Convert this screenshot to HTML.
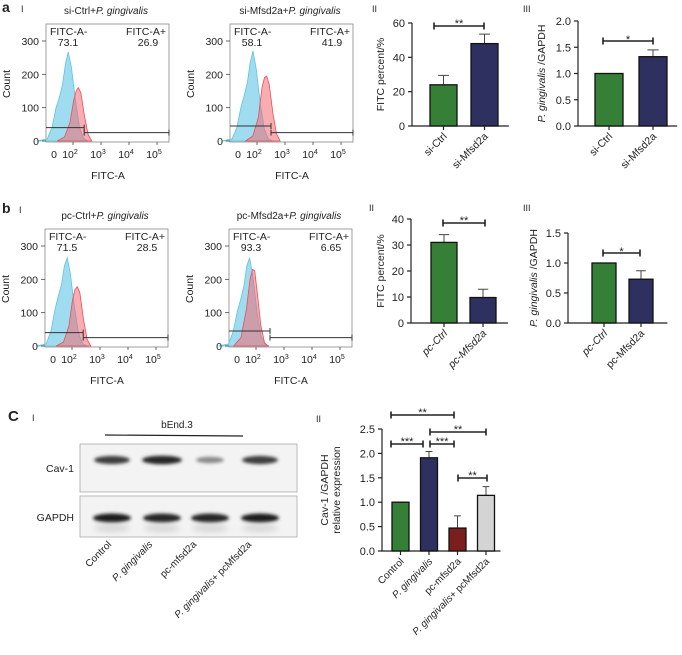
<!DOCTYPE html>
<html><head><meta charset="utf-8">
<style>
html,body{margin:0;padding:0;background:#fff;}
svg{display:block;font-family:"Liberation Sans",Arial,sans-serif;}
</style></head>
<body>
<svg id="fig" width="682" height="655" viewBox="0 0 682 655" xmlns="http://www.w3.org/2000/svg">
<defs>
<filter id="blur1" x="-20%" y="-100%" width="140%" height="300%"><feGaussianBlur stdDeviation="1.6"/></filter>
<filter id="blur2" x="-20%" y="-100%" width="140%" height="300%"><feGaussianBlur stdDeviation="3"/></filter>
</defs>
</svg>
<script>
// ---------- DATA ----------
const flowTitles = [['si-Ctrl+','P. gingivalis'],['si-Mfsd2a+','P. gingivalis'],['pc-Ctrl+','P. gingivalis'],['pc-Mfsd2a+','P. gingivalis']];
const flowNegPct = ['73.1','58.1','71.5','93.3'];
const flowPosPct = ['26.9','41.9','28.5','6.65'];
const flowYTicks = [0,100,200,300];
const blueD = [1.05,1.3,1.42,1.52,1.6,1.68,1.75,1.82,1.9,2.0,2.1,2.2,2.3];
const blueCountsA1 = [0,6,40,100,130,170,230,267,220,120,40,8,0];
const blueCountsA2 = [0,6,40,100,135,175,235,270,215,110,35,6,0];
const blueCountsB1 = [0,6,45,110,150,185,240,265,215,115,38,7,0];
const blueCountsB2 = [0,6,45,105,140,180,240,265,210,105,30,5,0];
const redD = [1.6,1.8,1.95,2.05,2.12,2.18,2.25,2.35,2.45,2.55];
const redCountsA1 = [0,12,55,120,150,160,145,75,20,0];
const redCountsA2 = [0,15,70,160,190,195,170,85,22,0];
const redCountsB1 = [0,12,60,140,170,178,160,80,20,0];
const redCountsB2 = [0,25,110,200,230,225,160,60,10,0];
const blueShift = [0,0.02,0,-0.04];
const redShift = [0,0.12,0,-0.18];
const gateNeg = [40,45,40,45];
const gatePos = [25,25,25,25];

const aIICats = ['si-Ctrl','si-Mfsd2a'];
const aIIVals = [24,48];
const aIIErr = [29.5,53.5];
const aIITicks = [0,20,40,60];
const aIIIVals = [1.0,1.32];
const aIIIErr = [1.0,1.45];
const aIIITicks = [0,0.5,1.0,1.5,2.0];
const aIIITickLabels = ['0.0','0.5','1.0','1.5','2.0'];
const bIICats = ['pc-Ctrl','pc-Mfsd2a'];
const bIIVals = [31,9.8];
const bIIErr = [34,13];
const bIITicks = [0,10,20,30,40];
const bIIIVals = [1.0,0.73];
const bIIIErr = [1.0,0.87];
const bIIITicks = [0,0.5,1.0,1.5];
const bIIITickLabels = ['0.0','0.5','1.0','1.5'];
const cCats = ['Control','P. gingivalis','pc-mfsd2a','P. gingivalis+ pcMfsd2a'];
const cVals = [1.0,1.91,0.47,1.14];
const cErr = [1.0,2.04,0.72,1.32];
const cTicks = [0,0.5,1.0,1.5,2.0,2.5];
const cTickLabels = ['0.0','0.5','1.0','1.5','2.0','2.5'];
const cav1Intensity = [0.85,1.0,0.3,0.85];
const gapdhIntensity = [1.0,0.95,0.95,1.0];

// ---------- HELPERS ----------
const NS='http://www.w3.org/2000/svg';
const svg=document.getElementById('fig');
function mk(tag,attrs,parent){const e=document.createElementNS(NS,tag);for(const k in attrs)e.setAttribute(k,attrs[k]);(parent||svg).appendChild(e);return e;}
function txt(s,x,y,size,anchor,parent,extra){const e=mk('text',Object.assign({x:x,y:y,'font-size':size,'text-anchor':anchor||'start',fill:'#222'},extra||{}),parent);e.textContent=s;return e;}
const greens=['#358036','#2e3060','#7a1e1e','#d4d4d4'];

// ---------- PANEL LABELS ----------
let t;
t=txt('a',2,12,14,'start',svg,{'font-weight':'bold'});


t=txt('I',21,12,9);


t=txt('b',2,213,14,'start',svg,{'font-weight':'bold'});


t=txt('I',19,213,9);


t=txt('C',8,421,15,'start',svg,{'font-weight':'bold'});


t=txt('I',32,421,9);



// ---------- FLOW HISTOGRAMS ----------
const flowPos=[[46,24],[230,24],[45,229],[229,229]];
const blueSets=[blueCountsA1,blueCountsA2,blueCountsB1,blueCountsB2];
const redSets=[redCountsA1,redCountsA2,redCountsB1,redCountsB2];
flowPos.forEach((p,i)=>{
  const L=p[0],T=p[1],W=123,H=118,B=T+117;
  const g=mk('g',{});
  
  
  const xs=d=>L+27+(d-2)*28;
  const xb=d=>xs(1.8+(d-1.8)*1.45);
  const xr=d=>xs(2.15+(d-2.15)*1.3);
  const ys=c=>B-c/3;
  const ti=txt(flowTitles[i][0],L+60,T-10,10,'middle',g);
  const ts=mk('tspan',{'font-style':'italic'},ti);ts.textContent=flowTitles[i][1];
  
  
  const bx=mk('rect',{x:L,y:T,width:W,height:H,fill:'none',stroke:'#888','stroke-width':0.8},g);
  
  
  let pts=[[xb(blueD[0]+blueShift[i]),B]];
  blueD.forEach((d,k)=>pts.push([xb(d+blueShift[i]),ys(blueSets[i][k])]));
  pts.push([xb(blueD[blueD.length-1]+blueShift[i]),B]);
  const bl=mk('polygon',{points:pts.map(q=>q.join(',')).join(' '),fill:'#8fd6ec','fill-opacity':0.85,stroke:'#5cc4e4','stroke-width':0.8},g);
  
  
  pts=[[xr(redD[0]+redShift[i]),B]];
  redD.forEach((d,k)=>pts.push([xr(d+redShift[i]),ys(redSets[i][k])]));
  pts.push([xr(redD[redD.length-1]+redShift[i]),B]);
  const rd=mk('polygon',{points:pts.map(q=>q.join(',')).join(' '),fill:'#f06a72','fill-opacity':0.55,stroke:'#e8505a','stroke-width':0.8},g);
  
  
  const gx=xs(2.4+(i%2?0.1:0));
  const g1=mk('path',{d:`M${L} ${ys(gateNeg[i])}H${gx}M${gx} ${ys(gateNeg[i])-3}v6`,stroke:'#333','stroke-width':1,fill:'none'},g);
  
  
  const g2=mk('path',{d:`M${gx} ${ys(gatePos[i])}H${L+W}M${gx} ${ys(gatePos[i])-3}v6M${L+W} ${ys(gatePos[i])-3}v6`,stroke:'#333','stroke-width':1,fill:'none'},g);
  
  
  t=txt('FITC-A-',L+4,T+11,10.5,'start',g);
  
  
  t=txt(flowNegPct[i],L+22,T+22,10.5,'middle',g);
  
  
  t=txt('FITC-A+',L+W-3,T+11,10.5,'end',g);
  
  
  t=txt(flowPosPct[i],L+W-21,T+22,10.5,'middle',g);
  
  
  flowYTicks.forEach(v=>{
    const tk=mk('line',{x1:L-4,x2:L,y1:ys(v),y2:ys(v),stroke:'#444','stroke-width':0.8},g);
    
    
    const tl=txt(String(v),L-7,ys(v)+4,10.5,'end',g);
    
    
  });
  const yl=txt('Count',0,0,10.5,'middle',g,{transform:`translate(${L-36},${T+60}) rotate(-90)`});
  
  
  const xl0=txt('0',L+8,B+17,10.5,'middle',g);
  
  
  [2,3,4,5].forEach(d=>{
    const tk=mk('line',{x1:xs(d),x2:xs(d),y1:B+1,y2:B+4,stroke:'#444','stroke-width':0.8},g);
    
    
    const tl=txt('10',xs(d)-3,B+17,10.5,'middle',g);
    const sp=mk('tspan',{dy:-4,'font-size':7},tl);sp.textContent=String(d);
    
    
  });
  const xt=txt('FITC-A',L+62,B+38,10.5,'middle',g);
  
  
});

// ---------- BAR CHARTS ----------
function barChart(o){
  const g=mk('g',{});
  
  
  const max=o.ticks[o.ticks.length-1];
  const ys=v=>o.y0-(v/max)*(o.y0-o.yTop);
  const xc=i=>o.x0+o.off+o.w/2+i*o.step;
  const n=o.vals.length;
  const right=xc(n-1)+o.w/2+o.off*0.6;
  const ax=mk('path',{d:`M${o.ax} ${o.yTop}V${o.y0}H${right}`,stroke:'#222','stroke-width':1.2,fill:'none'},g);
  
  
  o.ticks.forEach((v,k)=>{
    const tk=mk('line',{x1:o.ax-4,x2:o.ax,y1:ys(v),y2:ys(v),stroke:'#222','stroke-width':1.2},g);
    
    
    const tl=txt(o.tickLabels?o.tickLabels[k]:String(v),o.ax-7,ys(v)+4,11,'end',g);
    
    
  });
  o.vals.forEach((v,i)=>{
    const er=mk('path',{d:`M${xc(i)} ${ys(v)}V${ys(o.err[i])}M${xc(i)-o.w*0.2} ${ys(o.err[i])}H${xc(i)+o.w*0.2}`,stroke:'#444','stroke-width':1},g);
    
    
    const r=mk('rect',{x:xc(i)-o.w/2,y:ys(v),width:o.w,height:o.y0-ys(v),fill:o.colors[i],stroke:'#111','stroke-width':1.3},g);
    
    
    const tk=mk('line',{x1:xc(i),x2:xc(i),y1:o.y0,y2:o.y0+4,stroke:'#222','stroke-width':1.2},g);
    
    
    const lab=o.cats[i];
    const tl=mk('text',{x:0,y:0,'font-size':o.fs||10.5,'text-anchor':'end',fill:'#222',transform:`translate(${xc(i)+4},${o.y0+11}) rotate(-45)`},g);
    if(o.italicFull && o.italicFull[i]){tl.setAttribute('font-style','italic');}
    if(lab.startsWith('P. gingivalis')){
      const s1=mk('tspan',{'font-style':'italic'},tl);s1.textContent='P. gingivalis';
      const s2=mk('tspan',{},tl);s2.textContent=lab.slice(13);
    } else tl.textContent=lab;
    
    
  });
  (o.brackets||[]).forEach(b=>{
    const y=b[2];
    const br=mk('path',{d:`M${b[0]} ${y}H${b[1]}M${b[0]} ${y-3.5}v7M${b[1]} ${y-3.5}v7`,stroke:'#222','stroke-width':1.6,fill:'none'},g);
    
    
    const st=txt(b[3],(b[0]+b[1])/2,y+(b[3].length>1?1:2),11,'middle',g);
    
    
  });
  const yl=mk('text',{x:0,y:0,'font-size':10.5,'text-anchor':'middle',fill:'#222',transform:`translate(${o.ylx},${(o.y0+o.yTop)/2}) rotate(-90)`},g);
  o.ylParts.forEach(pp=>{const s=mk('tspan',pp[1]?{'font-style':'italic'}:{},yl);s.textContent=pp[0];});
  
  
  if(o.yl2){
    const y2=txt(o.yl2,0,0,10.5,'middle',g,{transform:`translate(${o.ylx+12},${(o.y0+o.yTop)/2}) rotate(-90)`});
    
    
  }
  const rl=txt(o.roman,o.romanX,o.romanY,9,'start',g);
  
  
}

barChart({name:'chart-a-ii',cats:aIICats,vals:aIIVals,err:aIIErr,ticks:aIITicks,ax:412,x0:412,off:18,w:27,step:41,y0:126,yTop:23,colors:[greens[0],greens[1]],brackets:[[434,484,26,'**']],ylx:384,ylParts:[['FITC percent/%',false]],roman:'II',romanX:372,romanY:12});
barChart({name:'chart-a-iii',cats:aIICats,vals:aIIIVals,err:aIIIErr,ticks:aIIITicks,tickLabels:aIIITickLabels,ax:578,x0:578,off:17,w:28,step:44,y0:126,yTop:21,colors:[greens[0],greens[1]],brackets:[[603,653,41,'*']],ylx:545,ylParts:[['P. gingivalis',true],[' /GAPDH',false]],roman:'III',romanX:523,romanY:12});
barChart({name:'chart-b-ii',cats:bIICats,vals:bIIVals,err:bIIErr,ticks:bIITicks,ax:411,x0:411,off:20,w:26,step:39,y0:323,yTop:219,colors:[greens[0],greens[1]],brackets:[[443,485,223,'**']],ylx:384,ylParts:[['FITC percent/%',false]],roman:'II',romanX:369,romanY:211,italicFull:[true,true]});
barChart({name:'chart-b-iii',cats:bIICats,vals:bIIIVals,err:bIIIErr,ticks:bIIITicks,tickLabels:bIIITickLabels,ax:568,x0:568,off:24,w:24,step:37,y0:323,yTop:233,colors:[greens[0],greens[1]],brackets:[[603,640,253,'*']],ylx:537,ylParts:[['P. gingivalis',true],[' /GAPDH',false]],roman:'III',romanX:523,romanY:211,italicFull:[true,false]});
barChart({name:'chart-c-ii',cats:cCats,vals:cVals,err:cErr,ticks:cTicks,tickLabels:cTickLabels,ax:382,x0:382,off:10,w:17,step:28.5,y0:551,yTop:429,colors:greens,brackets:[[391,454,415,'**'],[391,423,444,'***'],[430,454,444,'***'],[430,486,432,'**'],[458,487,478,'**']],ylx:328,ylParts:[['Cav-1 /GAPDH',false]],yl2:'relative expression',roman:'II',romanX:316,romanY:422,fs:10});

// ---------- WESTERN BLOT ----------
const wb=mk('g',{});


t=txt('bEnd.3',177,428,10,'middle',wb);


let ln=mk('line',{x1:105,x2:243,y1:435,y2:436,stroke:'#222','stroke-width':1.2},wb);


let bx1=mk('rect',{x:80,y:444,width:217,height:48,fill:'#f3f3f3',stroke:'#aaa','stroke-width':0.8},wb);


let bx2=mk('rect',{x:80,y:496,width:217,height:41,fill:'#f3f3f3',stroke:'#aaa','stroke-width':0.8},wb);


t=txt('Cav-1',74,472,10.5,'end',wb);


t=txt('GAPDH',74,521,10.5,'end',wb);


const laneX=[112,162,210,260];
const laneW=[36,40,28,36];
laneX.forEach((x,i)=>{
  const c=Math.round(40+(1-cav1Intensity[i])*140);
  const e1=mk('ellipse',{cx:x,cy:460,rx:laneW[i]/2,ry:2.8+cav1Intensity[i]*1.5,fill:`rgb(${c},${c},${c})`,filter:'url(#blur1)'},wb);
  
  
  const c2=Math.round(30+(1-gapdhIntensity[i])*140);
  const e2=mk('ellipse',{cx:x,cy:518,rx:19,ry:4.5,fill:`rgb(${c2},${c2},${c2})`,filter:'url(#blur1)'},wb);
  
  
  const hz=mk('ellipse',{cx:x,cy:528,rx:18,ry:4,fill:'#bbb','fill-opacity':0.5,filter:'url(#blur2)'},wb);
  
  
});
const wbEnd=[[112,545],[153,545],[197,545],[252,545]];
cCats.forEach((lab,i)=>{
  const tl=mk('text',{x:0,y:0,'font-size':10,'text-anchor':'end',fill:'#222',transform:`translate(${wbEnd[i][0]},${wbEnd[i][1]}) rotate(-45)`},wb);
  if(lab.startsWith('P. gingivalis')){
    const s1=mk('tspan',{'font-style':'italic'},tl);s1.textContent='P. gingivalis';
    const s2=mk('tspan',{},tl);s2.textContent=lab.slice(13);
  } else tl.textContent=lab;
  
  
});
</script>
</body></html>
